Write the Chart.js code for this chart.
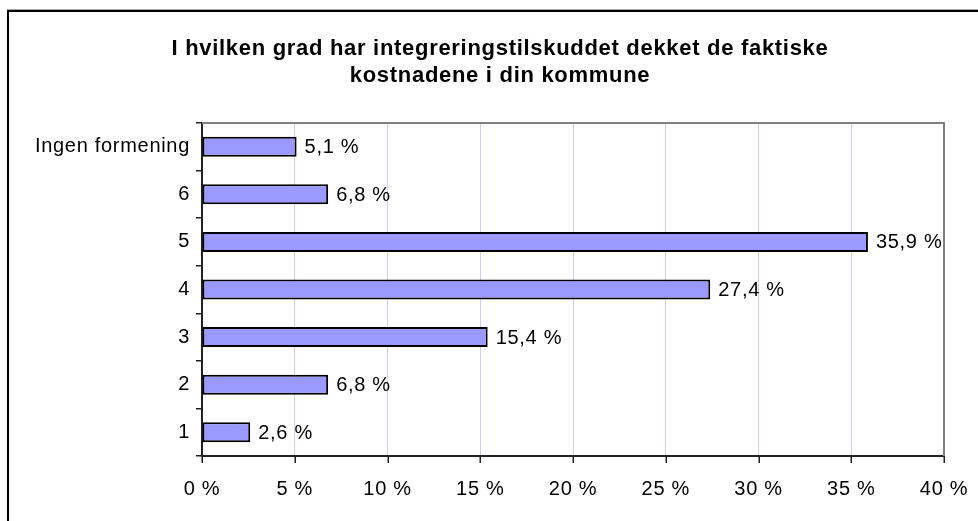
<!DOCTYPE html>
<html>
<head>
<meta charset="utf-8">
<script src="https://cdn.jsdelivr.net/npm/chart.js@4"></script>
<style>
  html, body { margin: 0; padding: 0; background: #fff; overflow: hidden; }
  #wrap { position: relative; width: 978px; height: 521px; overflow: hidden; }
  #frame { position: absolute; left: 7px; top: 10px; width: 1100px; height: 700px;
           border: 2px solid #000; box-shadow: 0 -1px 0 #aaa; }
  canvas { position: absolute; left: 0; top: 0; }
</style>
</head>
<body>
<div id="wrap">
  <div id="frame"></div>
  <canvas id="c" width="978" height="521"></canvas>
</div>
<script>
const titleLines = ["I hvilken grad har integreringstilskuddet dekket de faktiske", "kostnadene i din kommune"];
const categories = ["Ingen formening", "6", "5", "4", "3", "2", "1"];
const values = [5.1, 6.8, 35.9, 27.4, 15.4, 6.8, 2.6];
const xTicks = [0, 5, 10, 15, 20, 25, 30, 35, 40];

const FONT = "'Liberation Sans', Arial, sans-serif";
const SP = '0.7px';

const spacingPlugin = {
  id: 'spacing',
  beforeUpdate(chart) { chart.ctx.letterSpacing = SP; },
  beforeLayout(chart) { chart.ctx.letterSpacing = SP; },
  beforeDraw(chart) { chart.ctx.letterSpacing = SP; }
};

const frameLines = {
  id: 'frameLines',
  beforeDatasetsDraw(chart) {
    const { ctx, chartArea: a } = chart;
    ctx.save();
    ctx.strokeStyle = '#808080';
    ctx.lineWidth = 2;
    ctx.beginPath();
    ctx.moveTo(a.left, a.top);
    ctx.lineTo(a.right, a.top);
    ctx.lineTo(a.right, a.bottom);
    ctx.stroke();
    ctx.restore();
  }
};

const valueLabels = {
  id: 'valueLabels',
  afterDatasetsDraw(chart) {
    const { ctx } = chart;
    const meta = chart.getDatasetMeta(0);
    ctx.save();
    ctx.letterSpacing = SP;
    ctx.font = "20px " + FONT;
    ctx.fillStyle = '#000';
    ctx.textAlign = 'left';
    ctx.textBaseline = 'middle';
    meta.data.forEach((bar, i) => {
      const txt = values[i].toFixed(1).replace('.', ',') + ' %';
      ctx.fillText(txt, bar.x + 8, bar.y + 1);
    });
    ctx.restore();
  }
};

new Chart(document.getElementById('c'), {
  type: 'bar',
  data: {
    labels: categories,
    datasets: [{
      data: values,
      backgroundColor: '#9999ff',
      borderColor: '#000000',
      borderWidth: 2,
      borderSkipped: false,
      barPercentage: 0.42,
      categoryPercentage: 1.0
    }]
  },
  options: {
    indexAxis: 'y',
    responsive: false,
    animation: false,
    layout: { padding: { left: 22, right: 0, top: 0, bottom: 15 } },
    plugins: {
      legend: { display: false },
      tooltip: { enabled: false },
      title: {
        display: true,
        text: titleLines,
        color: '#000',
        font: { family: FONT, size: 22, weight: 'bold', lineHeight: 1.25 },
        padding: { top: 35, bottom: 33 }
      }
    },
    scales: {
      x: {
        type: 'linear',
        min: 0, max: 40,
        afterBuildTicks(scale) { scale.ticks = xTicks.map(v => ({ value: v })); },
        afterFit(scale) { scale.height = 50; scale.paddingLeft = 0; scale.paddingRight = 0; },
        grid: {
          color: '#ccccff',
          lineWidth: 1,
          drawTicks: false,
          drawOnChartArea: true
        },
        border: { display: true, color: '#222', width: 2 },
        ticks: {
          color: '#000',
          font: { family: FONT, size: 20 },
          padding: 21,
          callback: v => v + ' %'
        }
      },
      y: {
        type: 'category',
        afterFit(scale) { scale.width = 180; },
        grid: {
          offset: true,
          drawOnChartArea: false,
          drawTicks: true,
          tickLength: 6,
          color: '#222',
          lineWidth: 1.5
        },
        border: { display: true, color: '#222', width: 2 },
        ticks: {
          color: '#000',
          font: { family: FONT, size: 20 },
          padding: 6
        }
      },
      y2: {
        type: 'linear',
        position: 'right',
        display: true,
        afterFit(scale) { scale.width = 34; },
        grid: { display: false, drawTicks: false },
        border: { display: false },
        ticks: { display: false }
      }
    }
  },
  plugins: [spacingPlugin, frameLines, valueLabels, {
    id: 'xTickMarks',
    afterDraw(chart) {
      const { ctx, chartArea: a } = chart;
      const xs = chart.scales.x;
      ctx.save();
      ctx.strokeStyle = '#222';
      ctx.lineWidth = 1.5;
      ctx.beginPath();
      xTicks.forEach(v => {
        const px = Math.round(xs.getPixelForValue(v)) + 0.25;
        ctx.moveTo(px, a.bottom);
        ctx.lineTo(px, a.bottom + 7);
      });
      ctx.stroke();
      ctx.restore();
    }
  }]
});
</script>
</body>
</html>
